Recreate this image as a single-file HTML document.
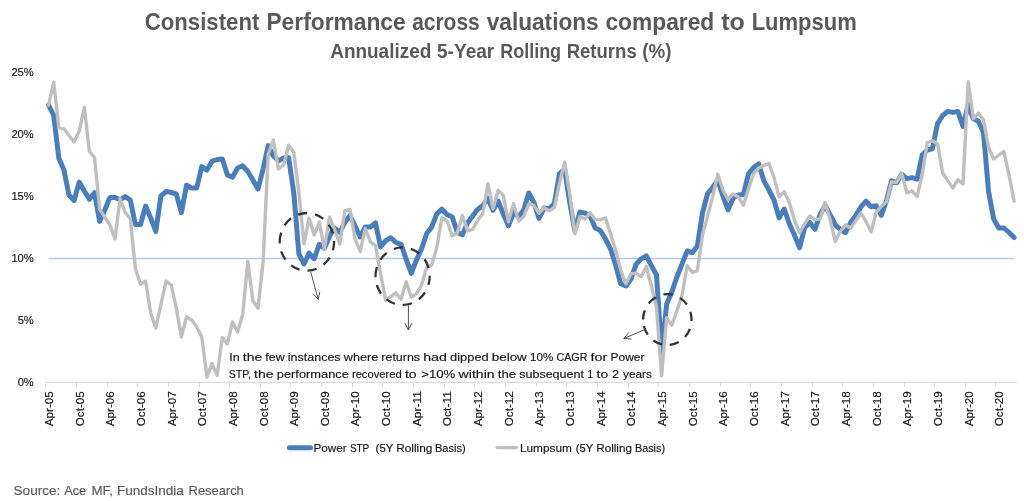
<!DOCTYPE html>
<html lang="en"><head><meta charset="utf-8"><title>Consistent Performance across valuations compared to Lumpsum</title>
<style>html,body{margin:0;padding:0;background:#fff}body{width:1024px;height:501px;overflow:hidden}svg{display:block}text{font-family:"Liberation Sans", Arial, sans-serif}</style></head><body>
<svg width="1024" height="501" viewBox="0 0 1024 501">
<rect width="1024" height="501" fill="#ffffff"/>
<text y="29.6" font-size="24" fill="#595959" font-weight="bold"><tspan x="144.8" textLength="114.5" lengthAdjust="spacingAndGlyphs">Consistent</tspan> <tspan x="266.4" textLength="139.3" lengthAdjust="spacingAndGlyphs">Performance</tspan> <tspan x="412.2" textLength="67.5" lengthAdjust="spacingAndGlyphs">across</tspan> <tspan x="486.7" textLength="112.0" lengthAdjust="spacingAndGlyphs">valuations</tspan> <tspan x="605.4" textLength="108.9" lengthAdjust="spacingAndGlyphs">compared</tspan> <tspan x="721.2" textLength="23.6" lengthAdjust="spacingAndGlyphs">to</tspan> <tspan x="751.7" textLength="105.0" lengthAdjust="spacingAndGlyphs">Lumpsum</tspan></text>
<text y="57.9" font-size="20" fill="#595959" font-weight="bold"><tspan x="330.2" textLength="101.1" lengthAdjust="spacingAndGlyphs">Annualized</tspan> <tspan x="437.0" textLength="57.3" lengthAdjust="spacingAndGlyphs">5-Year</tspan> <tspan x="500.2" textLength="60.9" lengthAdjust="spacingAndGlyphs">Rolling</tspan> <tspan x="566.7" textLength="70.0" lengthAdjust="spacingAndGlyphs">Returns</tspan> <tspan x="642.3" textLength="29.2" lengthAdjust="spacingAndGlyphs">(%)</tspan></text>
<text x="33.8" y="386.0" text-anchor="end" font-size="11.2" fill="#141414" stroke="#141414" stroke-width="0.15">0%</text>
<text x="33.8" y="323.9" text-anchor="end" font-size="11.2" fill="#141414" stroke="#141414" stroke-width="0.15">5%</text>
<text x="33.8" y="261.9" text-anchor="end" font-size="11.2" fill="#141414" stroke="#141414" stroke-width="0.15">10%</text>
<text x="33.8" y="199.8" text-anchor="end" font-size="11.2" fill="#141414" stroke="#141414" stroke-width="0.15">15%</text>
<text x="33.8" y="137.8" text-anchor="end" font-size="11.2" fill="#141414" stroke="#141414" stroke-width="0.15">20%</text>
<text x="33.8" y="75.8" text-anchor="end" font-size="11.2" fill="#141414" stroke="#141414" stroke-width="0.15">25%</text>
<path d="M46 382.5H1016.8" stroke="#d9d9d9" stroke-width="1" fill="none"/>
<path d="M45.5 382.5V387.0M76.5 382.5V387.0M107.5 382.5V387.0M137.5 382.5V387.0M168.5 382.5V387.0M199.5 382.5V387.0M229.5 382.5V387.0M260.5 382.5V387.0M290.5 382.5V387.0M321.5 382.5V387.0M352.5 382.5V387.0M382.5 382.5V387.0M413.5 382.5V387.0M444.5 382.5V387.0M474.5 382.5V387.0M505.5 382.5V387.0M536.5 382.5V387.0M566.5 382.5V387.0M597.5 382.5V387.0M628.5 382.5V387.0M658.5 382.5V387.0M689.5 382.5V387.0M720.5 382.5V387.0M750.5 382.5V387.0M781.5 382.5V387.0M812.5 382.5V387.0M842.5 382.5V387.0M873.5 382.5V387.0M904.5 382.5V387.0M934.5 382.5V387.0M965.5 382.5V387.0M995.5 382.5V387.0" stroke="#d9d9d9" stroke-width="1" fill="none"/>
<text transform="translate(52.9 391.2) rotate(-90)" text-anchor="end" font-size="11.7" fill="#141414" stroke="#141414" stroke-width="0.15" textLength="35" lengthAdjust="spacingAndGlyphs">Apr-05</text>
<text transform="translate(83.6 391.2) rotate(-90)" text-anchor="end" font-size="11.7" fill="#141414" stroke="#141414" stroke-width="0.15" textLength="35" lengthAdjust="spacingAndGlyphs">Oct-05</text>
<text transform="translate(114.2 391.2) rotate(-90)" text-anchor="end" font-size="11.7" fill="#141414" stroke="#141414" stroke-width="0.15" textLength="35" lengthAdjust="spacingAndGlyphs">Apr-06</text>
<text transform="translate(144.9 391.2) rotate(-90)" text-anchor="end" font-size="11.7" fill="#141414" stroke="#141414" stroke-width="0.15" textLength="35" lengthAdjust="spacingAndGlyphs">Oct-06</text>
<text transform="translate(175.5 391.2) rotate(-90)" text-anchor="end" font-size="11.7" fill="#141414" stroke="#141414" stroke-width="0.15" textLength="35" lengthAdjust="spacingAndGlyphs">Apr-07</text>
<text transform="translate(206.2 391.2) rotate(-90)" text-anchor="end" font-size="11.7" fill="#141414" stroke="#141414" stroke-width="0.15" textLength="35" lengthAdjust="spacingAndGlyphs">Oct-07</text>
<text transform="translate(236.8 391.2) rotate(-90)" text-anchor="end" font-size="11.7" fill="#141414" stroke="#141414" stroke-width="0.15" textLength="35" lengthAdjust="spacingAndGlyphs">Apr-08</text>
<text transform="translate(267.5 391.2) rotate(-90)" text-anchor="end" font-size="11.7" fill="#141414" stroke="#141414" stroke-width="0.15" textLength="35" lengthAdjust="spacingAndGlyphs">Oct-08</text>
<text transform="translate(298.1 391.2) rotate(-90)" text-anchor="end" font-size="11.7" fill="#141414" stroke="#141414" stroke-width="0.15" textLength="35" lengthAdjust="spacingAndGlyphs">Apr-09</text>
<text transform="translate(328.8 391.2) rotate(-90)" text-anchor="end" font-size="11.7" fill="#141414" stroke="#141414" stroke-width="0.15" textLength="35" lengthAdjust="spacingAndGlyphs">Oct-09</text>
<text transform="translate(359.4 391.2) rotate(-90)" text-anchor="end" font-size="11.7" fill="#141414" stroke="#141414" stroke-width="0.15" textLength="35" lengthAdjust="spacingAndGlyphs">Apr-10</text>
<text transform="translate(390.1 391.2) rotate(-90)" text-anchor="end" font-size="11.7" fill="#141414" stroke="#141414" stroke-width="0.15" textLength="35" lengthAdjust="spacingAndGlyphs">Oct-10</text>
<text transform="translate(420.7 391.2) rotate(-90)" text-anchor="end" font-size="11.7" fill="#141414" stroke="#141414" stroke-width="0.15" textLength="35" lengthAdjust="spacingAndGlyphs">Apr-11</text>
<text transform="translate(451.4 391.2) rotate(-90)" text-anchor="end" font-size="11.7" fill="#141414" stroke="#141414" stroke-width="0.15" textLength="35" lengthAdjust="spacingAndGlyphs">Oct-11</text>
<text transform="translate(482.0 391.2) rotate(-90)" text-anchor="end" font-size="11.7" fill="#141414" stroke="#141414" stroke-width="0.15" textLength="35" lengthAdjust="spacingAndGlyphs">Apr-12</text>
<text transform="translate(512.7 391.2) rotate(-90)" text-anchor="end" font-size="11.7" fill="#141414" stroke="#141414" stroke-width="0.15" textLength="35" lengthAdjust="spacingAndGlyphs">Oct-12</text>
<text transform="translate(543.4 391.2) rotate(-90)" text-anchor="end" font-size="11.7" fill="#141414" stroke="#141414" stroke-width="0.15" textLength="35" lengthAdjust="spacingAndGlyphs">Apr-13</text>
<text transform="translate(574.0 391.2) rotate(-90)" text-anchor="end" font-size="11.7" fill="#141414" stroke="#141414" stroke-width="0.15" textLength="35" lengthAdjust="spacingAndGlyphs">Oct-13</text>
<text transform="translate(604.7 391.2) rotate(-90)" text-anchor="end" font-size="11.7" fill="#141414" stroke="#141414" stroke-width="0.15" textLength="35" lengthAdjust="spacingAndGlyphs">Apr-14</text>
<text transform="translate(635.3 391.2) rotate(-90)" text-anchor="end" font-size="11.7" fill="#141414" stroke="#141414" stroke-width="0.15" textLength="35" lengthAdjust="spacingAndGlyphs">Oct-14</text>
<text transform="translate(666.0 391.2) rotate(-90)" text-anchor="end" font-size="11.7" fill="#141414" stroke="#141414" stroke-width="0.15" textLength="35" lengthAdjust="spacingAndGlyphs">Apr-15</text>
<text transform="translate(696.6 391.2) rotate(-90)" text-anchor="end" font-size="11.7" fill="#141414" stroke="#141414" stroke-width="0.15" textLength="35" lengthAdjust="spacingAndGlyphs">Oct-15</text>
<text transform="translate(727.3 391.2) rotate(-90)" text-anchor="end" font-size="11.7" fill="#141414" stroke="#141414" stroke-width="0.15" textLength="35" lengthAdjust="spacingAndGlyphs">Apr-16</text>
<text transform="translate(757.9 391.2) rotate(-90)" text-anchor="end" font-size="11.7" fill="#141414" stroke="#141414" stroke-width="0.15" textLength="35" lengthAdjust="spacingAndGlyphs">Oct-16</text>
<text transform="translate(788.6 391.2) rotate(-90)" text-anchor="end" font-size="11.7" fill="#141414" stroke="#141414" stroke-width="0.15" textLength="35" lengthAdjust="spacingAndGlyphs">Apr-17</text>
<text transform="translate(819.2 391.2) rotate(-90)" text-anchor="end" font-size="11.7" fill="#141414" stroke="#141414" stroke-width="0.15" textLength="35" lengthAdjust="spacingAndGlyphs">Oct-17</text>
<text transform="translate(849.9 391.2) rotate(-90)" text-anchor="end" font-size="11.7" fill="#141414" stroke="#141414" stroke-width="0.15" textLength="35" lengthAdjust="spacingAndGlyphs">Apr-18</text>
<text transform="translate(880.5 391.2) rotate(-90)" text-anchor="end" font-size="11.7" fill="#141414" stroke="#141414" stroke-width="0.15" textLength="35" lengthAdjust="spacingAndGlyphs">Oct-18</text>
<text transform="translate(911.2 391.2) rotate(-90)" text-anchor="end" font-size="11.7" fill="#141414" stroke="#141414" stroke-width="0.15" textLength="35" lengthAdjust="spacingAndGlyphs">Apr-19</text>
<text transform="translate(941.8 391.2) rotate(-90)" text-anchor="end" font-size="11.7" fill="#141414" stroke="#141414" stroke-width="0.15" textLength="35" lengthAdjust="spacingAndGlyphs">Oct-19</text>
<text transform="translate(972.5 391.2) rotate(-90)" text-anchor="end" font-size="11.7" fill="#141414" stroke="#141414" stroke-width="0.15" textLength="35" lengthAdjust="spacingAndGlyphs">Apr-20</text>
<text transform="translate(1003.1 391.2) rotate(-90)" text-anchor="end" font-size="11.7" fill="#141414" stroke="#141414" stroke-width="0.15" textLength="35" lengthAdjust="spacingAndGlyphs">Oct-20</text>
<path d="M48.6 258.4H1014.1" stroke="#b4c9e8" stroke-width="1.5" fill="none"/>
<polyline points="48.6,105.0 53.7,115.5 58.8,158.0 63.9,170.0 69.0,195.0 74.1,200.7 79.2,182.1 84.3,191.0 89.4,199.3 94.5,192.7 99.6,221.4 104.8,210.0 109.9,197.5 115.0,197.5 120.1,199.8 125.2,196.6 130.3,200.0 135.4,224.5 140.5,224.5 145.6,206.1 150.7,218.0 155.8,231.4 160.9,196.2 166.1,191.4 171.2,192.5 176.3,193.8 181.4,212.7 186.5,185.3 191.6,188.0 196.7,188.0 201.8,166.6 206.9,170.1 212.0,161.2 217.1,159.5 222.3,159.0 227.4,175.0 232.5,177.3 237.6,168.0 242.7,165.8 247.8,171.5 252.9,180.0 258.0,189.1 263.1,169.0 268.2,145.6 273.3,156.0 278.5,160.7 283.6,158.0 288.7,157.8 293.8,193.0 298.9,254.0 304.0,264.0 309.1,253.1 314.2,258.8 319.3,244.2 324.4,248.3 329.5,236.2 334.7,228.0 339.8,232.5 344.9,222.0 350.0,215.6 355.1,226.0 360.2,237.0 365.3,227.0 370.4,227.0 375.5,222.9 380.6,246.9 385.7,240.6 390.8,237.8 396.0,242.5 401.1,244.4 406.2,259.4 411.3,273.3 416.4,260.0 421.5,249.0 426.6,233.8 431.7,226.9 436.8,213.8 441.9,209.2 447.0,214.4 452.2,216.9 457.3,232.5 462.4,234.8 467.5,223.0 472.6,216.0 477.7,209.4 482.8,205.6 487.9,198.2 493.0,210.2 498.1,201.0 503.2,213.8 508.4,225.8 513.5,212.5 518.6,217.0 523.7,210.0 528.8,193.0 533.9,202.5 539.0,218.4 544.1,208.1 549.2,208.7 554.3,203.8 559.4,173.8 564.6,169.2 569.7,202.0 574.8,230.9 579.9,212.1 585.0,213.0 590.1,216.0 595.2,228.0 600.3,230.6 605.4,238.8 610.5,248.8 615.6,265.0 620.7,283.8 625.9,286.0 631.0,278.8 636.1,264.4 641.2,258.8 646.3,255.9 651.4,265.6 656.5,275.0 661.6,351.9 666.7,304.0 671.8,292.0 676.9,277.0 682.1,263.8 687.2,250.8 692.3,252.8 697.4,246.0 702.5,213.0 707.6,193.5 712.7,187.5 717.8,180.1 722.9,196.0 728.0,209.9 733.1,198.0 738.3,195.0 743.4,194.4 748.5,173.8 753.6,167.5 758.7,163.9 763.8,180.6 768.9,190.0 774.0,200.0 779.1,217.8 784.2,209.0 789.3,223.8 794.4,235.0 799.6,247.7 804.7,227.5 809.8,222.5 814.9,229.3 820.0,215.0 825.1,205.4 830.2,215.0 835.3,225.0 840.4,229.4 845.5,232.7 850.6,222.5 855.8,215.6 860.9,206.9 866.0,201.2 871.1,206.8 876.2,205.7 881.3,215.3 886.4,201.0 891.5,180.8 896.6,182.8 901.7,174.2 906.8,178.6 912.0,177.6 917.1,179.2 922.2,155.0 927.3,150.0 932.4,148.8 937.5,123.8 942.6,115.6 947.7,111.4 952.8,112.4 957.9,111.4 963.0,126.4 968.2,104.8 973.3,118.8 978.4,121.2 983.5,132.5 988.6,192.0 993.7,219.0 998.8,228.0 1003.9,228.0 1009.0,232.5 1014.1,237.5" fill="none" stroke="#4a7ebb" stroke-width="5" stroke-linejoin="round" stroke-linecap="round"/>
<polyline points="48.6,105.0 53.7,82.3 58.8,127.5 63.9,128.8 69.0,135.5 74.1,141.9 79.2,131.2 84.3,107.3 89.4,151.2 94.5,157.5 99.6,208.8 104.8,217.5 109.9,225.0 115.0,238.9 120.1,198.6 125.2,212.5 130.3,218.8 135.4,268.5 140.5,284.2 145.6,281.1 150.7,313.2 155.8,327.9 160.9,304.5 166.1,281.1 171.2,285.0 176.3,308.0 181.4,337.1 186.5,316.8 191.6,320.0 196.7,327.0 201.8,337.0 206.9,377.1 212.0,363.6 217.1,375.4 222.3,337.7 227.4,343.8 232.5,321.9 237.6,332.1 242.7,314.5 247.8,261.1 252.9,300.8 258.0,308.2 263.1,262.0 268.2,154.0 273.3,140.1 278.5,169.0 283.6,165.0 288.7,145.2 293.8,152.5 298.9,193.0 304.0,243.9 309.1,218.1 314.2,234.9 319.3,222.1 324.4,248.9 329.5,217.1 334.7,230.0 339.8,243.9 344.9,210.6 350.0,209.5 355.1,239.4 360.2,251.4 365.3,228.6 370.4,242.0 375.5,245.6 380.6,273.8 385.7,300.2 390.8,296.5 396.0,292.9 401.1,299.3 406.2,281.7 411.3,297.2 416.4,293.8 421.5,285.0 426.6,267.5 431.7,265.0 436.8,247.5 441.9,217.8 447.0,221.0 452.2,235.7 457.3,233.0 462.4,215.5 467.5,230.9 472.6,229.4 477.7,220.3 482.8,213.8 487.9,183.6 493.0,208.9 498.1,190.5 503.2,195.0 508.4,221.9 513.5,203.6 518.6,221.0 523.7,216.5 528.8,203.9 533.9,205.3 539.0,213.2 544.1,207.8 549.2,210.9 554.3,207.5 559.4,183.8 564.6,162.1 569.7,193.8 574.8,233.9 579.9,216.5 585.0,219.1 590.1,212.7 595.2,219.4 600.3,219.9 605.4,217.7 610.5,233.8 615.6,250.0 620.7,270.0 625.9,284.0 631.0,273.8 636.1,273.1 641.2,276.6 646.3,266.6 651.4,286.0 656.5,307.0 661.6,375.9 666.7,317.8 671.8,325.2 676.9,310.6 682.1,295.0 687.2,265.7 692.3,272.3 697.4,270.6 702.5,235.0 707.6,216.0 712.7,196.5 717.8,174.1 722.9,190.0 728.0,199.4 733.1,194.0 738.3,197.0 743.4,205.2 748.5,188.8 753.6,173.8 758.7,168.0 763.8,165.6 768.9,163.2 774.0,177.5 779.1,196.9 784.2,191.6 789.3,202.5 794.4,220.0 799.6,232.8 804.7,223.8 809.8,216.0 814.9,219.5 820.0,219.0 825.1,202.6 830.2,220.0 835.3,241.5 840.4,231.2 845.5,224.8 850.6,228.4 855.8,220.6 860.9,213.2 866.0,221.5 871.1,231.9 876.2,212.5 881.3,206.2 886.4,202.0 891.5,182.0 896.6,182.5 901.7,173.4 906.8,192.8 912.0,191.0 917.1,196.4 922.2,175.0 927.3,142.5 932.4,140.8 937.5,143.8 942.6,173.0 947.7,180.6 952.8,188.0 957.9,179.9 963.0,183.9 968.2,81.7 973.3,118.8 978.4,113.1 983.5,120.0 988.6,147.5 993.7,159.0 998.8,155.0 1003.9,151.6 1009.0,175.0 1014.1,201.2" fill="none" stroke="#bfbfbf" stroke-width="3.4" stroke-linejoin="round" stroke-linecap="round"/>
<path d="M279.7 241.8A27.2 28.8 0 1 1 334.1 241.8A27.2 28.8 0 1 1 279.7 241.8Z" fill="none" stroke="#333333" stroke-width="2.3" stroke-dasharray="9.4 8"/>
<path d="M375.5 276.2A27.1 28.75 0 1 1 429.7 276.2A27.1 28.75 0 1 1 375.5 276.2Z" fill="none" stroke="#333333" stroke-width="2.3" stroke-dasharray="9.4 8"/>
<path d="M643.1 319.6A24.2 25.5 0 1 1 691.5 319.6A24.2 25.5 0 1 1 643.1 319.6Z" fill="none" stroke="#333333" stroke-width="2.3" stroke-dasharray="9.4 8"/>
<path d="M310.6 271.6L318.25 299.4M313.0 293.6L318.25 299.4L319.8 291.8" fill="none" stroke="#404040" stroke-width="0.9"/>
<path d="M408.4 305.1L408.4 330M404.9 323.1L408.4 330L411.9 323.1" fill="none" stroke="#404040" stroke-width="0.9"/>
<path d="M643.75 330L623.75 338.5M628.8 332.5L623.75 338.5L631.5 339.0" fill="none" stroke="#404040" stroke-width="0.9"/>
<text y="360.7" font-size="11.5" fill="#141414" stroke="#141414" stroke-width="0.15"><tspan x="229.2" textLength="10.4" lengthAdjust="spacingAndGlyphs">In</tspan> <tspan x="242.8" textLength="19.4" lengthAdjust="spacingAndGlyphs">the</tspan> <tspan x="265.3" textLength="19.4" lengthAdjust="spacingAndGlyphs">few</tspan> <tspan x="287.8" textLength="52.8" lengthAdjust="spacingAndGlyphs">instances</tspan> <tspan x="343.8" textLength="34.4" lengthAdjust="spacingAndGlyphs">where</tspan> <tspan x="381.3" textLength="38.8" lengthAdjust="spacingAndGlyphs">returns</tspan> <tspan x="423.2" textLength="23.7" lengthAdjust="spacingAndGlyphs">had</tspan> <tspan x="450.1" textLength="38.6" lengthAdjust="spacingAndGlyphs">dipped</tspan> <tspan x="491.8" textLength="35.0" lengthAdjust="spacingAndGlyphs">below</tspan> <tspan x="530.0" textLength="23.2" lengthAdjust="spacingAndGlyphs">10%</tspan> <tspan x="556.4" textLength="31.0" lengthAdjust="spacingAndGlyphs">CAGR</tspan> <tspan x="590.6" textLength="16.8" lengthAdjust="spacingAndGlyphs">for</tspan> <tspan x="610.6" textLength="33.9" lengthAdjust="spacingAndGlyphs">Power</tspan></text>
<text y="377.5" font-size="11.5" fill="#141414" stroke="#141414" stroke-width="0.15"><tspan x="228.8" textLength="22.2" lengthAdjust="spacingAndGlyphs">STP,</tspan> <tspan x="254.1" textLength="19.5" lengthAdjust="spacingAndGlyphs">the</tspan> <tspan x="276.8" textLength="72.1" lengthAdjust="spacingAndGlyphs">performance</tspan> <tspan x="351.9" textLength="49.9" lengthAdjust="spacingAndGlyphs">recovered</tspan> <tspan x="404.9" textLength="11.7" lengthAdjust="spacingAndGlyphs">to</tspan> <tspan x="421.2" textLength="34.2" lengthAdjust="spacingAndGlyphs">&gt;10%</tspan> <tspan x="458.6" textLength="36.0" lengthAdjust="spacingAndGlyphs">within</tspan> <tspan x="497.8" textLength="18.3" lengthAdjust="spacingAndGlyphs">the</tspan> <tspan x="519.2" textLength="64.8" lengthAdjust="spacingAndGlyphs">subsequent</tspan> <tspan x="587.2" textLength="6.0" lengthAdjust="spacingAndGlyphs">1</tspan> <tspan x="596.6" textLength="11.6" lengthAdjust="spacingAndGlyphs">to</tspan> <tspan x="612.1" textLength="7.1" lengthAdjust="spacingAndGlyphs">2</tspan> <tspan x="623.0" textLength="28.9" lengthAdjust="spacingAndGlyphs">years</tspan></text>
<path d="M289.4 447.8H310.6" stroke="#4a7ebb" stroke-width="5" stroke-linecap="round" fill="none"/>
<text y="452" font-size="10.8" fill="#141414" stroke="#141414" stroke-width="0.15"><tspan x="313.4" textLength="33.4" lengthAdjust="spacingAndGlyphs">Power</tspan> <tspan x="349.9" textLength="19.2" lengthAdjust="spacingAndGlyphs">STP</tspan> <tspan x="375.6" textLength="17.6" lengthAdjust="spacingAndGlyphs">(5Y</tspan> <tspan x="396.2" textLength="36.2" lengthAdjust="spacingAndGlyphs">Rolling</tspan> <tspan x="434.9" textLength="30.9" lengthAdjust="spacingAndGlyphs">Basis)</tspan></text>
<path d="M497.2 447.6H516.4" stroke="#bfbfbf" stroke-width="3.4" stroke-linecap="round" fill="none"/>
<text y="452" font-size="10.8" fill="#141414" stroke="#141414" stroke-width="0.15"><tspan x="520.0" textLength="51.8" lengthAdjust="spacingAndGlyphs">Lumpsum</tspan> <tspan x="575.7" textLength="17.3" lengthAdjust="spacingAndGlyphs">(5Y</tspan> <tspan x="596.2" textLength="35.8" lengthAdjust="spacingAndGlyphs">Rolling</tspan> <tspan x="635.0" textLength="30.0" lengthAdjust="spacingAndGlyphs">Basis)</tspan></text>
<text y="495" font-size="13" fill="#595959" stroke="#595959" stroke-width="0.15"><tspan x="13.5" textLength="46.9" lengthAdjust="spacingAndGlyphs">Source:</tspan> <tspan x="64.2" textLength="22.0" lengthAdjust="spacingAndGlyphs">Ace</tspan> <tspan x="91.5" textLength="21.5" lengthAdjust="spacingAndGlyphs">MF,</tspan> <tspan x="117.0" textLength="66.9" lengthAdjust="spacingAndGlyphs">FundsIndia</tspan> <tspan x="188.6" textLength="55.2" lengthAdjust="spacingAndGlyphs">Research</tspan></text>
</svg></body></html>
